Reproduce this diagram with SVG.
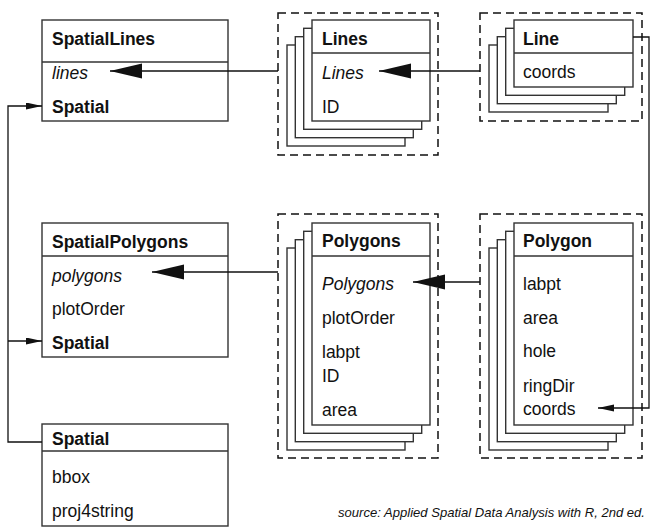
<svg xmlns="http://www.w3.org/2000/svg" width="659" height="531" viewBox="0 0 659 531">
<defs>
<style>
.box{fill:#fff;stroke:#333;stroke-width:1.4}
.sep{stroke:#333;stroke-width:1.4}
.dash{fill:none;stroke:#111;stroke-width:1.5;stroke-dasharray:8,5}
.conn{fill:none;stroke:#111;stroke-width:1.3}
text{font-family:"Liberation Sans",Arial,Helvetica,sans-serif;font-size:17.5px;fill:#111}
.b{font-weight:bold}
.i{font-style:italic}
.src{font-size:13px;font-style:italic}
</style>
<marker id="big" markerUnits="userSpaceOnUse" markerWidth="34" markerHeight="16" refX="32" refY="7.5" orient="auto">
<path d="M0,0 L32,7.5 L0,15 Z" fill="#111"/>
</marker>
<marker id="small" markerUnits="userSpaceOnUse" markerWidth="18" markerHeight="8" refX="16" refY="3.5" orient="auto">
<path d="M0,0 L16,3.5 L0,7 Z" fill="#111"/>
</marker>
</defs>
<rect width="659" height="531" fill="#fff"/>

<g id="SpatialLines">
<rect class="box" x="42" y="20" width="186" height="101"/>
<line class="sep" x1="42" y1="62" x2="228" y2="62"/>
<text class="b" x="52" y="45">SpatialLines</text>
<text class="i" x="52" y="79">lines</text>
<text class="b" x="52" y="113">Spatial</text>
</g>

<g id="Lines">
<rect class="dash" x="278" y="13" width="160" height="142"/>
<rect class="box" x="287" y="45" width="118" height="101"/>
<rect class="box" x="295.3" y="36.7" width="118" height="101"/>
<rect class="box" x="303.7" y="28.3" width="118" height="101"/>
<rect class="box" x="312" y="20" width="118" height="101"/>
<line class="sep" x1="312" y1="53" x2="430" y2="53"/>
<text class="b" x="322" y="45">Lines</text>
<text class="i" x="322" y="79">Lines</text>
<text x="322" y="113">ID</text>
</g>

<g id="Line">
<rect class="dash" x="480" y="13" width="162" height="108"/>
<rect class="box" x="489" y="45" width="119" height="67"/>
<rect class="box" x="497.3" y="36.7" width="119" height="67"/>
<rect class="box" x="505.7" y="28.3" width="119" height="67"/>
<rect class="box" x="514" y="20" width="119" height="67"/>
<line class="sep" x1="514" y1="53" x2="633" y2="53"/>
<text class="b" x="523" y="45">Line</text>
<text x="523" y="78">coords</text>
</g>

<g id="SpatialPolygons">
<rect class="box" x="42" y="223" width="186" height="134"/>
<line class="sep" x1="42" y1="256" x2="228" y2="256"/>
<text class="b" x="52" y="248">SpatialPolygons</text>
<text class="i" x="52" y="282">polygons</text>
<text x="52" y="315">plotOrder</text>
<text class="b" x="52" y="349">Spatial</text>
</g>

<g id="Polygons">
<rect class="dash" x="278" y="214" width="160" height="244"/>
<rect class="box" x="287" y="248" width="118" height="202"/>
<rect class="box" x="295.3" y="239.7" width="118" height="202"/>
<rect class="box" x="303.7" y="231.3" width="118" height="202"/>
<rect class="box" x="312" y="223" width="118" height="202"/>
<line class="sep" x1="312" y1="256" x2="430" y2="256"/>
<text class="b" x="322" y="247">Polygons</text>
<text class="i" x="322" y="290">Polygons</text>
<text x="322" y="324">plotOrder</text>
<text x="322" y="358">labpt</text>
<text x="322" y="382">ID</text>
<text x="322" y="416">area</text>
</g>

<g id="Polygon">
<rect class="dash" x="480" y="214" width="162" height="244"/>
<rect class="box" x="489" y="248" width="119" height="202"/>
<rect class="box" x="497.3" y="239.7" width="119" height="202"/>
<rect class="box" x="505.7" y="231.3" width="119" height="202"/>
<rect class="box" x="514" y="223" width="119" height="202"/>
<line class="sep" x1="514" y1="256" x2="633" y2="256"/>
<text class="b" x="523" y="247">Polygon</text>
<text x="523" y="290">labpt</text>
<text x="523" y="324">area</text>
<text x="523" y="357">hole</text>
<text x="523" y="392">ringDir</text>
<text x="523" y="415">coords</text>
</g>

<g id="Spatial">
<rect class="box" x="42" y="424" width="186" height="102"/>
<line class="sep" x1="42" y1="451" x2="228" y2="451"/>
<text class="b" x="52" y="445">Spatial</text>
<text x="52" y="483">bbox</text>
<text x="52" y="517">proj4string</text>
</g>

<g id="connectors">
<path class="conn" d="M278,71 H110" marker-end="url(#big)"/>
<path class="conn" d="M480,71 H379" marker-end="url(#big)"/>
<path class="conn" d="M278,272 H152" marker-end="url(#big)"/>
<path class="conn" d="M480,282 H413" marker-end="url(#big)"/>
<path class="conn" d="M633,37 H649 V408 H598" marker-end="url(#small)"/>
<path class="conn" d="M42,442 H8 V106 H42" marker-end="url(#small)"/>
<path class="conn" d="M8,341 H42" marker-end="url(#small)"/>
</g>

<text class="src" x="338" y="517" textLength="307" lengthAdjust="spacingAndGlyphs">source: Applied Spatial Data Analysis with R,  2nd ed.</text>
</svg>
